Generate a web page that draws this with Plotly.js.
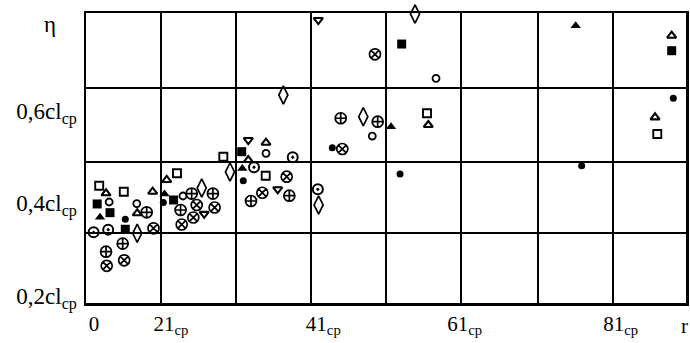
<!DOCTYPE html>
<html><head><meta charset="utf-8">
<script src="https://cdn.plot.ly/plotly-3.0.1.min.js"></script>
<style>html,body{margin:0;padding:0;background:#fff}</style>
</head><body>
<div id="chart" style="width:690px;height:343px"></div>
<script>
// values in grid-cell units (x: 0..8 cells, y: 0..4 cells)
const filledCircleX = [0.524, 1.031, 2.097, 3.284, 4.187, 6.609, 7.831];
const filledCircleY = [1.154, 1.386, 1.687, 2.142, 1.779, 1.894, 2.823];

const openCircleX = [0.309, 0.677, 1.293, 2.400, 3.817, 4.667];
const openCircleY = [1.393, 1.371, 1.476, 2.065, 2.303, 3.099];

const filledSquareX = [0.149, 0.320, 0.524, 1.168, 2.076, 4.209, 7.809];
const filledSquareY = [1.366, 1.246, 1.017, 1.421, 2.087, 3.572, 3.480];

const openSquareX = [0.176, 0.504, 1.213, 1.831, 2.396, 4.547, 7.617];
const openSquareY = [1.618, 1.535, 1.789, 2.018, 1.756, 2.617, 2.331];

const filledTriangleX = [0.187, 1.047, 2.084, 4.067, 6.529];
const filledTriangleY = [1.182, 1.503, 1.855, 2.432, 3.825];

const openTriangleX = [0.267, 0.889, 0.683, 1.076, 2.164, 2.400, 4.564, 7.809, 7.587];
const openTriangleY = [1.513, 1.535, 1.237, 1.697, 1.972, 2.211, 2.455, 3.687, 2.561];

const downTriangleX = [1.576, 2.164, 2.556, 3.097];
const downTriangleY = [1.230, 2.248, 1.568, 3.903];

const diamondX = [0.683, 1.543, 1.920, 2.631, 3.101, 3.697, 4.387];
const diamondY = [0.961, 1.586, 1.807, 2.869, 1.352, 2.570, 3.986];

const circlePlusX = [0.809, 0.489, 0.267, 1.409, 1.692, 1.261, 2.200, 2.711, 3.396, 3.889];
const circlePlusY = [1.251, 0.819, 0.708, 1.509, 1.509, 1.283, 1.407, 1.480, 2.548, 2.501];

const circleCrossX = [0.900, 0.509, 0.276, 1.476, 1.715, 1.431, 1.276, 2.351, 2.676, 3.417, 3.853];
const circleCrossY = [1.030, 0.589, 0.513, 1.352, 1.317, 1.179, 1.083, 1.521, 1.742, 2.124, 3.430];

const ringX = [0.101, 0.296, 2.240, 2.756, 3.091];
const ringY = [0.975, 1.012, 1.872, 2.010, 1.568];

const xTickVals = [0.107, 1.133, 3.164, 5.05, 7.13];
const xTickText = ['0', '21<sub>cp</sub>', '41<sub>cp</sub>', '61<sub>cp</sub>', '81<sub>cp</sub>'];
const yTickVals = [0.097, 1.379, 2.648];
const yTickText = ['0,2cl<sub>cp</sub>', '0,4cl<sub>cp</sub>', '0,6cl<sub>cp</sub>'];
const xGridVals = [1, 2, 3, 4, 5, 6.03, 7.03];
const yGridVals = [0.966, 1.945, 2.966];

function tr(x, y, symbol, size, lw) {
  return {
    type: 'scatter', mode: 'markers', x: x, y: y, cliponaxis: false,
    marker: {symbol: symbol, size: size, color: '#000', line: {color: '#000', width: lw}},
    hoverinfo: 'skip'
  };
}

const traces = [
  tr(filledCircleX, filledCircleY, 'circle', 7, 0),
  tr(openCircleX, openCircleY, 'circle-open', 7, 1.8),
  tr(filledSquareX, filledSquareY, 'square', 9, 0),
  tr(openSquareX, openSquareY, 'square-open', 8, 1.9),
  tr(filledTriangleX, filledTriangleY, 'triangle-up', 9, 0),
  tr(openTriangleX, openTriangleY, 'triangle-up-open', 8, 2.1),
  tr(downTriangleX, downTriangleY, 'triangle-down-open', 8, 2.1),
  tr(diamondX, diamondY, 'diamond-tall-open', 13, 1.7),
  tr(circlePlusX, circlePlusY, 'circle-cross-open', 11, 1.7),
  tr(circleCrossX, circleCrossY, 'circle-x-open', 11, 1.7),
  tr(ringX, ringY, 'circle-open-dot', 10, 2)
];

const serif = '"Liberation Serif", "Times New Roman", serif';
const xFont = {family: serif, size: 21, color: '#000'};
const yFont = {family: serif, size: 23, color: '#000'};

const layout = {
  width: 690, height: 343,
  margin: {l: 86, r: 4, t: 13, b: 40, pad: 0},
  paper_bgcolor: '#fff', plot_bgcolor: '#fff',
  showlegend: false,
  xaxis: {
    range: [0, 8], showgrid: false, zeroline: false,
    showline: true, mirror: true, linecolor: '#000', linewidth: 2.5,
    tickmode: 'array', tickvals: xTickVals, ticktext: xTickText, ticks: '',
    tickfont: xFont,
    minor: {tickmode: 'array', tickvals: xGridVals, showgrid: true, gridcolor: '#000', gridwidth: 2, ticks: ''}
  },
  yaxis: {
    range: [0, 4], showgrid: false, zeroline: false,
    showline: true, mirror: true, linecolor: '#000', linewidth: 2.5,
    tickmode: 'array', tickvals: yTickVals, ticktext: yTickText, ticks: '',
    tickfont: yFont, ticklabelstandoff: 2,
    minor: {tickmode: 'array', tickvals: yGridVals, showgrid: true, gridcolor: '#000', gridwidth: 2, ticks: ''}
  },
  annotations: [
    {text: 'η', xref: 'paper', yref: 'paper', x: -0.06, y: 0.96, xanchor: 'center', yanchor: 'middle', showarrow: false, font: {family: serif, size: 23, color: '#000'}},
    {text: 'r', xref: 'paper', yref: 'paper', x: 0.997, y: -0.079, xanchor: 'center', yanchor: 'middle', showarrow: false, font: xFont}
  ]
};

Plotly.newPlot('chart', traces, layout, {staticPlot: true, displayModeBar: false});
</script>
</body></html>
